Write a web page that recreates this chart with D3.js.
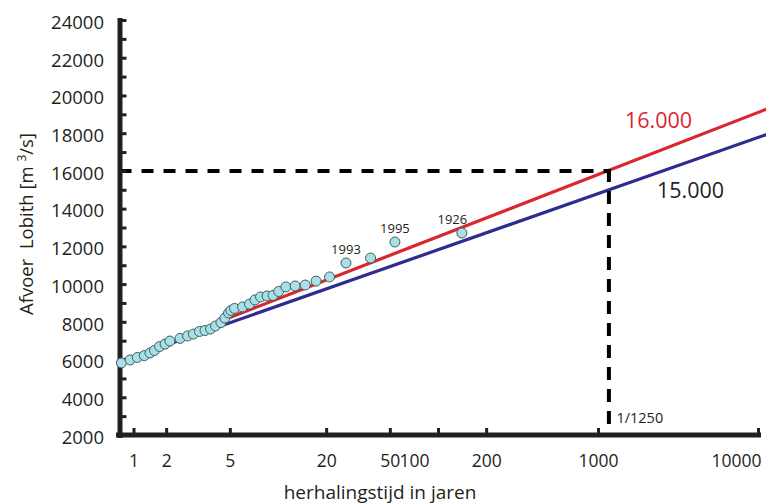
<!DOCTYPE html>
<html>
<head>
<meta charset="utf-8">
<script src="https://cdn.jsdelivr.net/npm/d3@7"></script>
<style>
  html, body { margin: 0; padding: 0; background: #ffffff; }
  svg { display: block; font-family: "Open Sans", "DejaVu Sans", sans-serif; }
</style>
</head>
<body>
<svg id="chart" width="766" height="504"></svg>
<script>
// ---- data ----
const returnPeriods = [1.05, 1.19, 1.32, 1.46, 1.585, 1.69, 1.82, 1.97, 2.11, 2.44, 2.72, 2.96, 3.23, 3.50, 3.79, 4.07, 4.40, 4.66, 4.91, 5.08, 5.35, 6.00, 6.64, 7.18, 7.78, 8.54, 9.31, 10.1, 11.2, 12.8, 14.8, 17.3, 21.0, 26.6, 37.9, 53.8, 141];
const discharges    = [5820, 5980, 6110, 6210, 6350, 6480, 6690, 6820, 6980, 7120, 7250, 7350, 7490, 7540, 7620, 7780, 7960, 8200, 8470, 8600, 8710, 8790, 8940, 9160, 9320, 9370, 9400, 9610, 9850, 9900, 9950, 10160, 10380, 11120, 11380, 12230, 12710];

const annotatedYears   = ["1993", "1995", "1926"];
const annotatedPeriods = [26.6, 53.8, 141];
const annotatedQ       = [11120, 12230, 12710];

const blueLineT = [1, 11500];
const blueLineQ = [5870, 17950];
const redLineT  = [5, 11500];
const redLineQ  = [8230, 19300];

// design point: the dashed line sits at the position
const designT = 1170;
const designQ = 16000;
const redLabel = "16.000";
const blueLabel = "15.000";
const designLabel = "1/1250";

const xTickValues = [1.25, 2, 5, 20, 50, 100, 200, 1000, 10000];
const xTickLabels = ["1", "2", "5", "20", "50", "100", "200", "1000", "10000"];
const yTickValues = [2000, 3000, 4000, 5000, 6000, 7000, 8000, 9000, 10000, 11000, 12000, 13000, 14000, 15000, 16000, 17000, 18000, 19000, 20000, 21000, 22000, 23000, 24000];
const yTickLabels = [2000, 4000, 6000, 8000, 10000, 12000, 14000, 16000, 18000, 20000, 22000, 24000];

const xTitle = "herhalingstijd in jaren";
const yTitleMain = "Afvoer\u00A0\u00A0Lobith [m\u00A0";
const yTitleSup = "3";
const yTitleEnd = "/s]";

// ---- layout ----
const svg = d3.select("#chart");
const xAxisY = 434.5;
const yAxisX = 119.5;
const x = d3.scaleLog().domain([1, 10000]).range([118, 758]);
const y = d3.scaleLinear().domain([2000, 24000]).range([435, 20]);

const ink = "#231f20";
const red = "#d9262f";
const blue = "#2e2c8e";

// ---- lines ----
const line = d3.line().x(d => x(d[0])).y(d => y(d[1]));
svg.append("path")
  .datum(blueLineT.map((t, i) => [t, blueLineQ[i]]))
  .attr("d", line).attr("fill", "none").attr("stroke", blue).attr("stroke-width", 3.2);
svg.append("path")
  .datum(redLineT.map((t, i) => [t, redLineQ[i]]))
  .attr("d", line).attr("fill", "none").attr("stroke", red).attr("stroke-width", 3.2);

// ---- dashed design lines ----
svg.append("line")
  .attr("x1", yAxisX).attr("x2", x(designT) + 2)
  .attr("y1", y(designQ)).attr("y2", y(designQ))
  .attr("stroke", "#000").attr("stroke-width", 4).attr("stroke-dasharray", "12,10");
svg.append("line")
  .attr("x1", x(designT)).attr("x2", x(designT))
  .attr("y1", y(designQ) - 2).attr("y2", xAxisY)
  .attr("stroke", "#000").attr("stroke-width", 4).attr("stroke-dasharray", "13,9");

// ---- axes ----
const yAxis = d3.axisLeft(y)
  .tickValues(yTickValues)
  .tickSize(-7)
  .tickSizeOuter(0)
  .tickPadding(15.5)
  .tickFormat(d => yTickLabels.includes(d) ? String(d) : "");
const gy = svg.append("g").attr("transform", `translate(${yAxisX},0)`).call(yAxis);
gy.select(".domain").attr("stroke", ink).attr("stroke-width", 5).attr("stroke-linecap", "square");
gy.selectAll(".tick line").attr("stroke", ink).attr("stroke-width", 3);
gy.selectAll(".tick text").attr("fill", ink).attr("font-size", "18.5px").attr("dy", "0.45em")
  .attr("font-family", "'Open Sans', sans-serif");

const xAxis = d3.axisBottom(x)
  .tickValues(xTickValues)
  .tickSize(-6.5)
  .tickSizeOuter(0)
  .tickPadding(20.5)
  .tickFormat((d, i) => xTickLabels[i]);
const gx = svg.append("g").attr("transform", `translate(0,${xAxisY})`).call(xAxis);
gx.select(".domain").attr("stroke", ink).attr("stroke-width", 5).attr("stroke-linecap", "square");
gx.selectAll(".tick line").attr("stroke", ink).attr("stroke-width", 3);
gx.selectAll(".tick text").attr("fill", ink).attr("font-size", "17.5px")
  .attr("font-family", "'Open Sans', sans-serif");
// label placement quirks of the original ("50100" run together, last label right-aligned)
gx.selectAll(".tick text")
  .filter((d, i) => xTickLabels[i] === "100").attr("dx", -24);
gx.selectAll(".tick text")
  .filter((d, i) => i === xTickLabels.length - 1).attr("text-anchor", "end").attr("dx", 3);

// ---- points ----
svg.append("g").selectAll("circle")
  .data(returnPeriods.map((t, i) => [t, discharges[i]]))
  .join("circle")
  .attr("cx", d => x(d[0])).attr("cy", d => y(d[1])).attr("r", 5)
  .attr("fill", "#a9dfe6").attr("stroke", "#3e5f64").attr("stroke-width", 1);

// ---- annotations ----
svg.append("g").selectAll("text")
  .data(annotatedYears.map((s, i) => ({ s, t: annotatedPeriods[i], q: annotatedQ[i], i })))
  .join("text")
  .attr("x", d => x(d.t) + (d.i === 2 ? -9.5 : 0))
  .attr("y", d => y(d.q) - 9)
  .attr("text-anchor", "middle")
  .attr("font-size", "13px").attr("fill", ink)
  .text(d => d.s);

svg.append("text")
  .attr("x", 625).attr("y", y(redLineQ[1]) + 19)
  .attr("font-size", "21.5px").attr("fill", red)
  .text(redLabel);
svg.append("text")
  .attr("x", 657).attr("y", 198)
  .attr("font-size", "21.5px").attr("fill", ink)
  .text(blueLabel);
svg.append("text")
  .attr("x", x(designT) + 7.5).attr("y", 423)
  .attr("font-size", "14.5px").attr("fill", ink)
  .text(designLabel);

// ---- titles ----
svg.append("text")
  .attr("x", 380).attr("y", 499)
  .attr("text-anchor", "middle")
  .attr("font-size", "19px").attr("fill", ink)
  .text(xTitle);

const yt = svg.append("text")
  .attr("transform", "translate(33,224) rotate(-90)")
  .attr("text-anchor", "middle")
  .attr("font-size", "18.5px").attr("fill", ink);
yt.append("tspan").text(yTitleMain);
yt.append("tspan").attr("font-size", "12px").attr("dy", "-7").text(yTitleSup);
yt.append("tspan").attr("dy", "7").text(yTitleEnd);
</script>
</body>
</html>
